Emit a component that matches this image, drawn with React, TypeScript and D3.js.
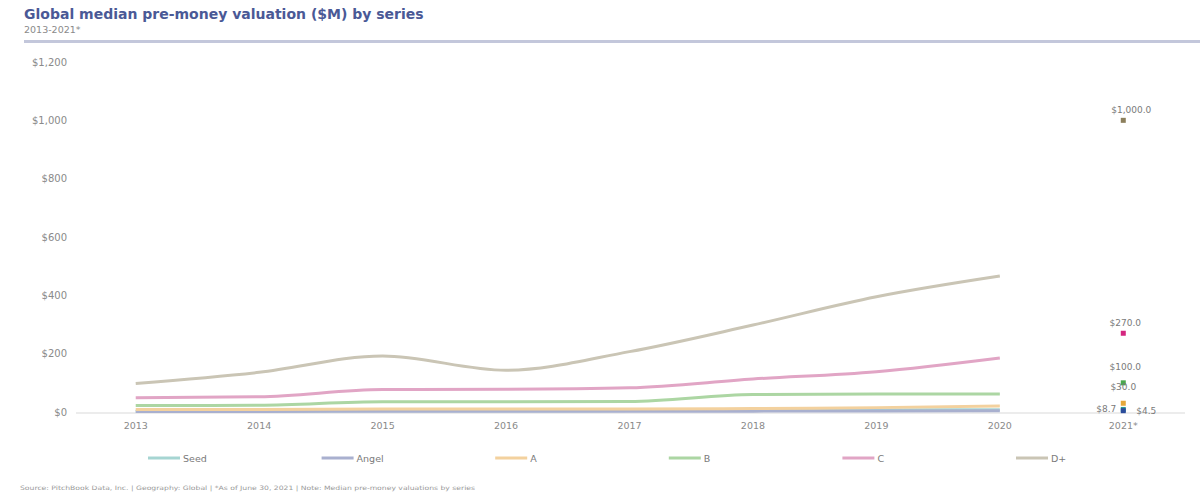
import React from "react";
import * as d3 from "d3";

const years = ["2013", "2014", "2015", "2016", "2017", "2018", "2019", "2020", "2021*"];
const lineYears = ["2013", "2014", "2015", "2016", "2017", "2018", "2019", "2020"];
const seriesNames = ["Seed", "Angel", "A", "B", "C", "D+"];
const seedValues = [3, 3, 4, 4, 5, 6, 7, 8];
const angelValues = [2, 2, 2.5, 3, 3, 3, 3.5, 4];
const aValues = [9, 9, 10, 10, 10, 12, 15, 21];
const bValues = [22, 23, 35, 35, 36, 60, 62, 62];
const cValues = [49, 52, 77, 78, 83, 113, 138, 185];
const dValues = [98, 136, 192, 143, 207, 298, 395, 466];
const values2021 = [8.7, 4.5, 30, 100, 270, 1000];
const labels2021 = ["$8.7", "$4.5", "$30.0", "$100.0", "$270.0", "$1,000.0"];
const yTicks = [0, 200, 400, 600, 800, 1000, 1200];
const yTickLabels = ["$0", "$200", "$400", "$600", "$800", "$1,000", "$1,200"];

const lineColors = ["#a6d5d2", "#a9b0cf", "#f3d19e", "#acd6a3", "#e1a5c5", "#cac5b5"];
const pointColors = ["#2a9d95", "#2b4c9b", "#e5a83b", "#4aa84e", "#d4267f", "#8c7f5c"];

const W = 1200;
const H = 504;

export default function App() {
  const allSeries = [seedValues, angelValues, aValues, bValues, cValues, dValues];
  const x = d3.scaleBand<string>().domain(years).range([74, 1185]);
  const xc = (yr: string) => (x(yr) as number) + x.bandwidth() / 2;
  const y = d3.scaleLinear().domain([0, 1200]).range([412, 62]);
  const line = d3
    .line<number>()
    .x((_, i) => xc(lineYears[i]))
    .y((v) => y(v))
    .curve(d3.curveMonotoneX);

  const legendX = d3.scalePoint<string>().domain(seriesNames).range([148, 1016]);
  const font = "'DejaVu Sans', Verdana, sans-serif";

  // label placement for 2021 points: [dx, dy, anchor]
  const labelOffsets: [number, number, string][] = [
    [-7, 3, "end"],
    [13, 3, "start"],
    [0, -13, "middle"],
    [2, -13, "middle"],
    [2, -7, "middle"],
    [8, -7, "middle"],
  ];

  return (
    <div style={{ position: "fixed", left: 0, top: 0 }}>
      <svg width={W} height={H} style={{ display: "block", background: "#fff" }} fontFamily={font}>
        <text x={24} y={19} fontSize={14} fontWeight={700} fill="#4a5996">
          Global median pre-money valuation ($M) by series
        </text>
        <text x={24} y={33} fontSize={9.5} fill="#8a8a8a">
          2013-2021*
        </text>
        <rect x={24} y={40} width={1176} height={3} fill="#c3c7db" />

        {yTicks.map((t, i) => (
          <text key={t} x={67} y={y(t) + 3.5} fontSize={10} fill="#8a8a8a" textAnchor="end">
            {yTickLabels[i]}
          </text>
        ))}
        <line x1={76} x2={1185} y1={y(0) + 1} y2={y(0) + 1} stroke="#ececec" strokeWidth={2} />

        {years.map((yr) => (
          <text key={yr} x={xc(yr)} y={429} fontSize={9.5} fill="#8a8a8a" textAnchor="middle">
            {yr}
          </text>
        ))}

        {allSeries.map((vals, i) => (
          <path key={i} d={line(vals) || ""} fill="none" stroke={lineColors[i]} strokeWidth={3} />
        ))}

        {values2021.map((v, i) => (
          <rect
            key={i}
            x={xc("2021*") - 2.5}
            y={y(v) - 2.5}
            width={5}
            height={5}
            fill={pointColors[i]}
          />
        ))}
        {values2021.map((v, i) => {
          const [dx, dy, anchor] = labelOffsets[i];
          return (
            <text
              key={i}
              x={xc("2021*") + dx}
              y={y(v) + dy}
              fontSize={9}
              fill="#7a7a7a"
              textAnchor={anchor as any}
            >
              {labels2021[i]}
            </text>
          );
        })}

        {seriesNames.map((s, i) => {
          const lx = legendX(s) as number;
          return (
            <g key={s}>
              <line x1={lx} x2={lx + 32} y1={458} y2={458} stroke={lineColors[i]} strokeWidth={3} />
              <text x={lx + 35} y={461.5} fontSize={9.5} fill="#7a7a7a">
                {s}
              </text>
            </g>
          );
        })}

        <text x={20} y={490} fontSize={6} fill="#9a9a9a" textLength={455} lengthAdjust="spacingAndGlyphs">
          Source: PitchBook Data, Inc. | Geography: Global | *As of June 30, 2021 | Note: Median pre-money valuations by series
        </text>
      </svg>
    </div>
  );
}
